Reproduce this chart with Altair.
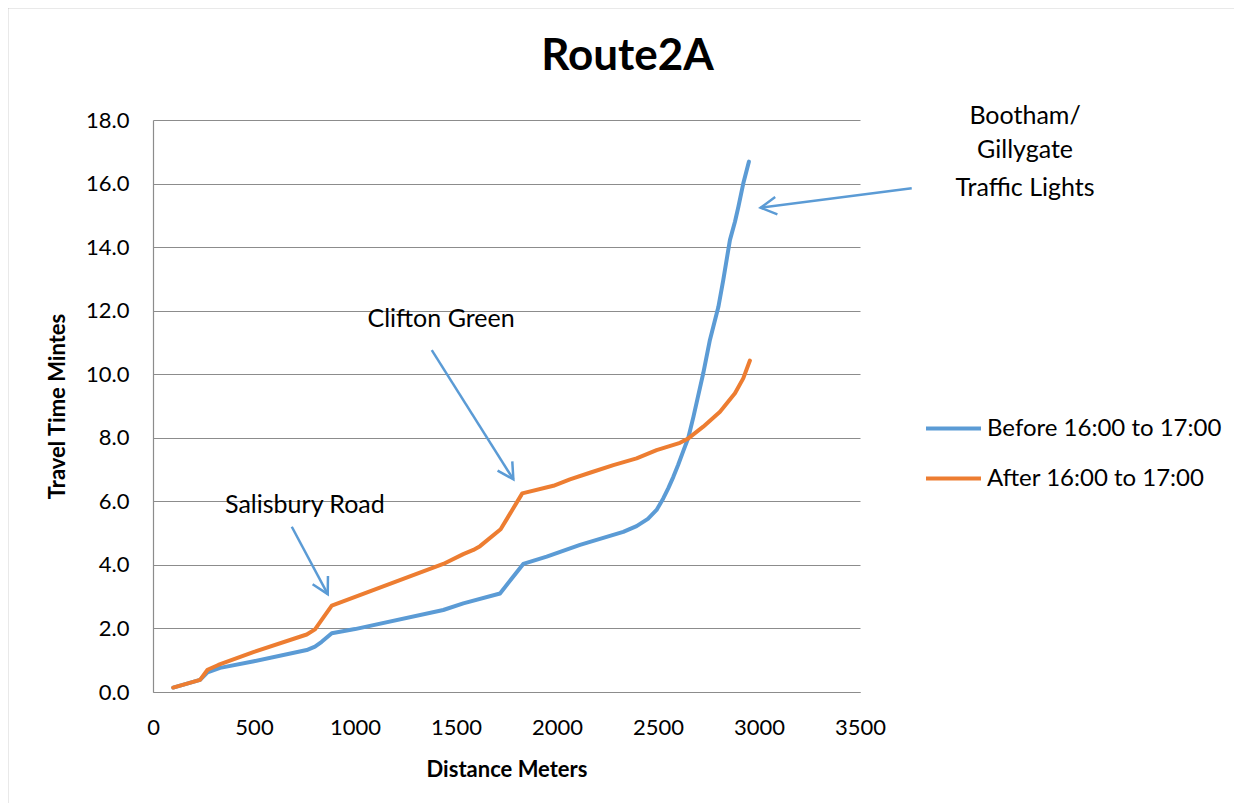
import math
import altair as alt
import pandas as pd

# ---------------- data ----------------
title_text = "Route2A"
x_title = "Distance Meters"
y_title = "Travel Time Mintes"
series_names = ["Before 16:00 to 17:00", "After 16:00 to 17:00"]
series_colors = ["#5B9BD5", "#ED7D31"]

before_dist = [100, 233, 270, 332, 500, 761, 802, 835, 885, 1000, 1437, 1536, 1718, 1833,
               1949, 2114, 2328, 2394, 2450, 2493, 2526, 2550, 2576, 2600, 2625, 2650, 2675,
               2724, 2757, 2799, 2823, 2856, 2881, 2898, 2922, 2950]
before_time = [0.14, 0.38, 0.62, 0.76, 0.97, 1.32, 1.43, 1.58, 1.85, 1.98, 2.58, 2.79, 3.10, 4.03,
               4.26, 4.63, 5.04, 5.22, 5.45, 5.73, 6.09, 6.40, 6.77, 7.15, 7.58, 8.0, 8.65,
               10.03, 11.08, 12.12, 12.96, 14.22, 14.80, 15.27, 16.0, 16.69]

after_dist = [100, 233, 270, 323, 500, 761, 802, 835, 885, 1437, 1536, 1586, 1619, 1721, 1828,
              1982, 2064, 2163, 2279, 2394, 2493, 2609, 2650, 2724, 2807, 2881, 2922, 2955]
after_time = [0.14, 0.38, 0.70, 0.85, 1.26, 1.81, 1.97, 2.27, 2.72, 4.03, 4.34, 4.47, 4.59, 5.12, 6.25,
              6.49, 6.69, 6.90, 7.14, 7.35, 7.61, 7.84, 7.98, 8.35, 8.82, 9.40, 9.87, 10.43]

x_ticks = [0, 500, 1000, 1500, 2000, 2500, 3000, 3500]
y_ticks = [0, 2, 4, 6, 8, 10, 12, 14, 16, 18]

annot_labels = ["Salisbury Road", "Clifton Green", "Bootham/", "Gillygate", "Traffic Lights"]
annot_x = [752, 1426, 4317, 4317, 4317]
annot_y = [5.63, 11.49, 17.87, 16.79, 15.61]

arrow_x0 = [687, 1380, 3756]
arrow_y0 = [5.20, 10.76, 15.85]
arrow_x1 = [865, 1784, 3008]
arrow_y1 = [3.08, 6.69, 15.24]

# ---------------- layout ----------------
W, H = 707, 572
FONT = "Lato"
ppx = W / 3500.0
ppy = H / 18.0

rows = []
for d, t in zip(before_dist, before_time):
    rows.append({"series": series_names[0], "dist": d, "time": t})
for d, t in zip(after_dist, after_time):
    rows.append({"series": series_names[1], "dist": d, "time": t})
lines_df = pd.DataFrame(rows)

annot_df = pd.DataFrame({"label": annot_labels, "x": annot_x, "y": annot_y})

angles = []
for x0, y0, x1, y1 in zip(arrow_x0, arrow_y0, arrow_x1, arrow_y1):
    dx = (x1 - x0) * ppx
    dy = -(y1 - y0) * ppy
    angles.append(math.degrees(math.atan2(-dx, dy)) % 360)
arrow_df = pd.DataFrame({"x0": arrow_x0, "y0": arrow_y0, "x1": arrow_x1, "y1": arrow_y1,
                         "angle": angles})

xscale = alt.Scale(domain=[0, 3500], nice=False, zero=False)
yscale = alt.Scale(domain=[0, 18], nice=False)

lines = alt.Chart(lines_df).mark_line(strokeWidth=4, strokeJoin="round", strokeCap="round").encode(
    x=alt.X("dist:Q", scale=xscale,
            axis=alt.Axis(values=x_ticks, format="d", grid=False, title=x_title,
                          labelPadding=25, labelFlush=False, titleY=84,
                          titleBaseline="alphabetic")),
    y=alt.Y("time:Q", scale=yscale,
            axis=alt.Axis(values=y_ticks, format=".1f", grid=True, title=y_title,
                          labelPadding=24, titleX=-89, titleY=H / 2, titleAngle=-90,
                          titleBaseline="alphabetic", titleAlign="center")),
    color=alt.Color("series:N", sort=series_names,
                    scale=alt.Scale(domain=series_names, range=series_colors),
                    legend=alt.Legend(title=None, orient="none", legendX=771, legendY=279,
                                      symbolType="stroke", symbolSize=3025,
                                      symbolStrokeWidth=4, labelFont=FONT, labelFontSize=24,
                                      labelColor="black", labelOffset=4, rowPadding=8,
                                      labelLimit=400)),
    detail="series:N",
    order="dist:Q",
)

arrows = alt.Chart(arrow_df).mark_rule(color="#5B9BD5", strokeWidth=2.5).encode(
    x="x0:Q", y="y0:Q", x2="x1:Q", y2="y1:Q"
)

heads = alt.Chart(arrow_df).mark_point(
    shape="M -0.55 -1 L 0 0 L 0.55 -1", filled=False, color="#5B9BD5",
    strokeWidth=2.5, size=1000, opacity=1
).encode(
    x="x1:Q", y="y1:Q", angle=alt.Angle("angle:Q", scale=None)
)

texts = alt.Chart(annot_df).mark_text(
    font=FONT, fontSize=25, color="black", align="center", baseline="alphabetic"
).encode(x="x:Q", y="y:Q", text="label:N")

border = alt.Chart(pd.DataFrame({"k": [0]})).mark_rect(
    fill=None, stroke="#A6A6A6", strokeWidth=1.5
).encode(
    x=alt.value(-145.5), y=alt.value(-112.5), x2=alt.value(W + 400), y2=alt.value(H + 200)
)

chart = alt.layer(border, lines, arrows, heads, texts).properties(
    width=W, height=H,
    title=alt.TitleParams(title_text, font=FONT, fontSize=44, fontWeight="bold",
                          color="black", anchor="middle", dx=121, offset=-107,
                          baseline="alphabetic"),
    autosize=alt.AutoSizeParams(type="none"),
    padding={"left": 145, "top": 112, "right": 374, "bottom": 111},
).configure_view(stroke=None).configure_axis(
    gridColor="#8C8C8C", gridWidth=1, domainColor="#8C8C8C", domainWidth=1.2,
    ticks=False, labelFont=FONT, labelFontSize=22, labelColor="black",
    titleFont=FONT, titleFontSize=22, titleFontWeight="bold", titleColor="black"
)

chart.save("out.html", embed_options={"renderer": "svg", "actions": False})
